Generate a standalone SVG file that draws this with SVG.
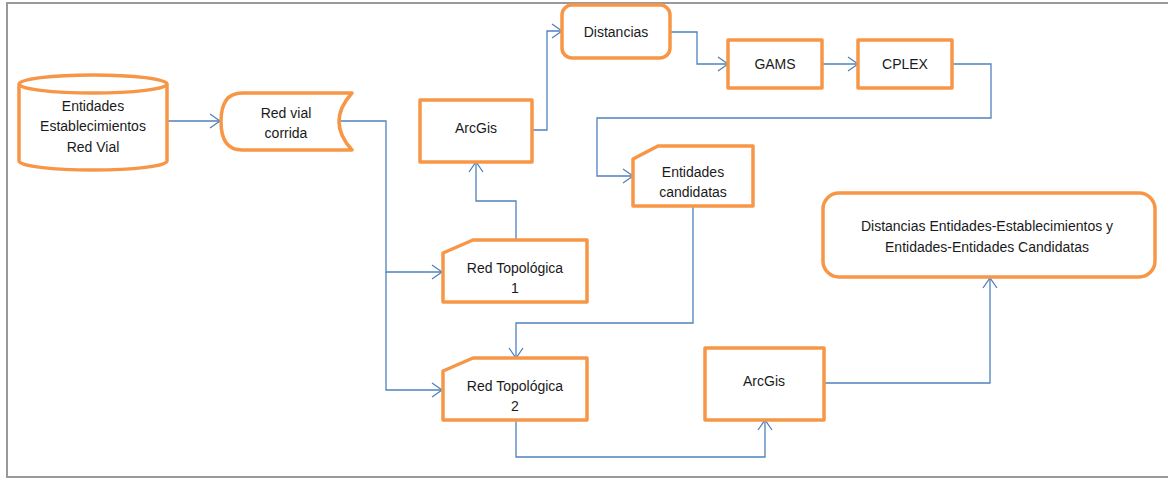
<svg xmlns="http://www.w3.org/2000/svg" width="1168" height="479" viewBox="0 0 1168 479">
<style>
.n{fill:#fff;stroke:#F79646;stroke-width:3.5;stroke-linejoin:round}
.c{fill:none;stroke:#4F81BD;stroke-width:1.3}
text{font-family:"Liberation Sans",Arial,sans-serif;font-size:14px;fill:#1a1a1a;text-anchor:middle}
.f{stroke:#9a9a9a;stroke-width:2;fill:none}
</style>
<defs>
<marker id="a" markerUnits="userSpaceOnUse" markerWidth="14" markerHeight="16" refX="11" refY="8" orient="auto">
<path d="M1,1 L11,8 L1,15" fill="none" stroke="#4F81BD" stroke-width="1.3"/>
</marker>
</defs>
<rect width="1168" height="479" fill="#fff"/>
<path class="f" d="M7,478 V3 H1168 M7,477 H1168"/>
<g id="connectors">
<path class="c" d="M167,121 H220" marker-end="url(#a)"/>
<path class="c" d="M331,121 H386 V272 H442" marker-end="url(#a)"/>
<path class="c" d="M386,272 V390 H442" marker-end="url(#a)"/>
<path class="c" d="M532,130 H547 V31 H562" marker-end="url(#a)"/>
<path class="c" d="M670,32 H697 V64 H728" marker-end="url(#a)"/>
<path class="c" d="M822,64 H858" marker-end="url(#a)"/>
<path class="c" d="M952,64 H991 V118 H597 V176 H633" marker-end="url(#a)"/>
<path class="c" d="M693,206 V323 H516 V358" marker-end="url(#a)"/>
<path class="c" d="M516,240 V201 H476 V162" marker-end="url(#a)"/>
<path class="c" d="M516,420 V457 H765 V420" marker-end="url(#a)"/>
<path class="c" d="M824,383 H990 V278" marker-end="url(#a)"/>
</g>
<g id="n1">
<path class="n" d="M19,84 V161 A74,9 0 0 0 167,161 V84 A74,9 0 0 0 19,84 A74,9 0 0 0 167,84"/>
<text x="93" y="111">Entidades</text>
<text x="93" y="131">Establecimientos</text>
<text x="93" y="152">Red Vial</text>
</g>
<g id="n2">
<path class="n" d="M242,93 H352 Q326,121.5 352,150 H242 Q221,150 221,121.5 Q221,93 242,93 Z"/>
<text x="286" y="118">Red vial</text>
<text x="286" y="138">corrida</text>
</g>
<g id="n3">
<rect class="n" x="420" y="100" width="112" height="62"/>
<text x="476" y="133">ArcGis</text>
</g>
<g id="n4">
<rect class="n" x="562" y="5" width="108" height="53" rx="10"/>
<text x="616" y="37">Distancias</text>
</g>
<g id="n5">
<rect class="n" x="728" y="40" width="94" height="48"/>
<text x="775" y="69">GAMS</text>
</g>
<g id="n6">
<rect class="n" x="858" y="40" width="94" height="48"/>
<text x="905" y="69">CPLEX</text>
</g>
<g id="n7">
<path class="n" d="M658,146 H753 V206 H633 V159 Z"/>
<text x="693" y="177">Entidades</text>
<text x="693" y="197">candidatas</text>
</g>
<g id="n8">
<path class="n" d="M473,240 H587 V302 H443 V253 Z"/>
<text x="515" y="273">Red Topológica</text>
<text x="515" y="293">1</text>
</g>
<g id="n9">
<path class="n" d="M473,358 H587 V420 H443 V371 Z"/>
<text x="515" y="391">Red Topológica</text>
<text x="515" y="411">2</text>
</g>
<g id="n10">
<rect class="n" x="705" y="348" width="119" height="72"/>
<text x="764" y="386">ArcGis</text>
</g>
<g id="n11">
<rect class="n" x="823" y="193" width="332" height="84" rx="16"/>
<text x="987" y="231">Distancias Entidades-Establecimientos y</text>
<text x="987" y="252">Entidades-Entidades Candidatas</text>
</g>
</svg>
